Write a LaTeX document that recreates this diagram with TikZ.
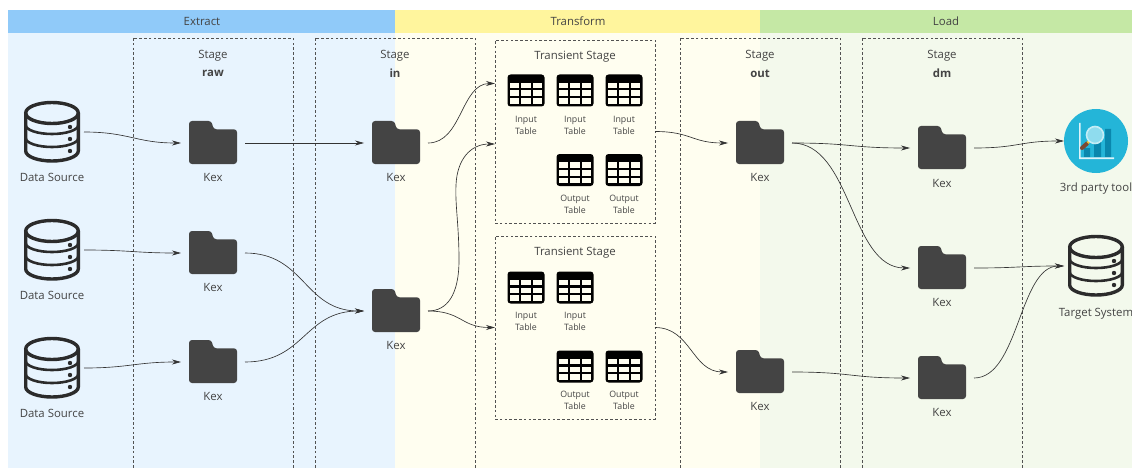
\documentclass[tikz,border=0pt]{standalone}
\usepackage{fontspec}
\setmainfont{Open Sans}
\usetikzlibrary{arrows.meta}
\definecolor{ink}{HTML}{333333}
\definecolor{txt}{HTML}{444444}
\definecolor{folderc}{HTML}{444444}
\definecolor{dbc}{HTML}{2B2B2B}
\definecolor{cellc}{HTML}{FFFEF0}
\definecolor{toolbg}{HTML}{24B5D8}
\definecolor{toolbar}{HTML}{0A87AD}
\definecolor{toolax}{HTML}{DDF3F9}
\definecolor{lens}{HTML}{8FDCEE}
\definecolor{lensrim}{HTML}{C4EDF6}
\definecolor{handle}{HTML}{7A4A32}
\definecolor{hring}{HTML}{F2C230}
\definecolor{bodyE}{HTML}{E8F4FE}
\definecolor{bodyT}{HTML}{FFFEF0}
\definecolor{bodyL}{HTML}{F3F9EC}
\definecolor{headE}{HTML}{90CAF9}
\definecolor{headT}{HTML}{FFF59D}
\definecolor{headL}{HTML}{C5E8A5}
\tikzset{
  x=1pt,y=-1pt,
  conn/.style={draw=ink,line width=0.65pt,-{Stealth[length=9pt,width=5pt]}},
  dashbox/.style={draw=ink!85,line width=0.55pt,dash pattern=on 2.6pt off 2.2pt},
  lab/.style={text=txt,font=\fontsize{11.4}{13}\selectfont,inner sep=0pt,align=center},
  small/.style={text=txt,font=\fontsize{8.8}{12}\selectfont,inner sep=0pt,align=center},
  foldernode/.style={minimum width=64pt,minimum height=44pt,inner sep=0pt,outer sep=0pt},
  dbnode/.style={minimum width=64pt,minimum height=64pt,inner sep=0pt,outer sep=0pt},
  tablenode/.style={minimum width=37pt,minimum height=32pt,inner sep=0pt,outer sep=0pt},
  transient/.style={dashbox,minimum width=160pt,minimum height=183pt,inner sep=0pt,outer sep=0pt},
}
\newcommand{\folderat}[3]{%
  \node[foldernode] (#1) at (#2,#3) {};
  \begin{scope}[shift={(#2,#3)}]
    \fill[folderc,rounded corners=3pt] (-24,-22) -- (-1.5,-22) -- (0.5,-13.7) -- (24,-13.7) -- (24,21) -- (-24,21) -- cycle;
  \end{scope}}
\newcommand{\dbat}[3]{%
  \node[dbnode] (#1) at (#2,#3) {};
  \begin{scope}[shift={(#2,#3)}]
    \draw[dbc,line width=3.4pt] (-26.3,-19) -- (-26.3,19) arc[start angle=180,end angle=0,x radius=26.3,y radius=10] -- (26.3,-19);
    \draw[dbc,line width=3.4pt] (0,-19) ellipse[x radius=26.3,y radius=10.5];
    \draw[dbc,line width=2.6pt] (-26.3,-7) arc[start angle=180,end angle=0,x radius=26.3,y radius=9];
    \draw[dbc,line width=2.6pt] (-26.3,6) arc[start angle=180,end angle=0,x radius=26.3,y radius=9];
    \fill[dbc] (18,-5) circle[radius=2.2] (18,7) circle[radius=2.2] (18,19) circle[radius=2.2];
  \end{scope}}
\newcommand{\tableat}[3]{%
  \node[tablenode] (#1) at (#2,#3) {};
  \begin{scope}[shift={(#2,#3)}]
    \fill[black,rounded corners=3pt] (-18.5,-16) rectangle (18.5,16);
    \foreach \r in {-7.7,0,7.7} \foreach \c in {-16,-4.67,6.67}
      \fill[cellc] (\c,\r) rectangle +(9.33,5.5);
  \end{scope}}
\begin{document}
\begin{tikzpicture}
\useasboundingbox (0,0) rectangle (1132,468);
\clip (0,0) rectangle (1132,468);
\fill[white] (0,0) rectangle (1132,468);
% bands
\fill[bodyE] (8,33) rectangle (395,468);
\fill[bodyT] (395,33) rectangle (760,468);
\fill[bodyL] (760,33) rectangle (1132,468);
\fill[headE] (8,10) rectangle (395,33);
\fill[headT] (395,10) rectangle (760,33);
\fill[headL] (760,10) rectangle (1132,33);
\node[lab] (hE) at (202,21) {Extract};
\node[lab] (hT) at (578,21) {Transform};
\node[lab] (hL) at (946,21) {Load};
% stages
\draw[dashbox] (133,38) rectangle (293,480);
\draw[dashbox] (315,38) rectangle (475,480);
\draw[dashbox] (680,38) rectangle (840,480);
\draw[dashbox] (862,38) rectangle (1022,480);
\node[lab] (s1) at (213,55.5) {Stage};
\node[lab] (s1b) at (213,73.5) {\textbf{raw}};
\node[lab] (s2) at (395,55.5) {Stage};
\node[lab] (s2b) at (395,73.5) {\textbf{in}};
\node[lab] (s3) at (760,55.5) {Stage};
\node[lab] (s3b) at (760,73.5) {\textbf{out}};
\node[lab] (s4) at (942,55.5) {Stage};
\node[lab] (s4b) at (942,73.5) {\textbf{dm}};
% transient
\node[transient] (T1) at (575,131.5) {};
\node[transient] (T2) at (575,327.5) {};
\coordinate (T1a) at (495,83.5);
\coordinate (T1b) at (495,144);
\node[lab] (T1t) at (575,56.5) {Transient Stage};
\node[lab] (T2t) at (575,252.5) {Transient Stage};
\tableat{a1}{526}{90.5}\tableat{a2}{575}{90.5}\tableat{a3}{624}{90.5}
\tableat{a4}{575}{170}\tableat{a5}{624}{170}
\tableat{b1}{526}{287.5}\tableat{b2}{575}{287.5}
\tableat{b4}{575}{366.5}\tableat{b5}{624}{366.5}
\node[small] at (526,125.5) {Input\\Table};
\node[small] at (575,125.5) {Input\\Table};
\node[small] at (624,125.5) {Input\\Table};
\node[small] at (575,204.5) {Output\\Table};
\node[small] at (624,204.5) {Output\\Table};
\node[small] at (526,321.5) {Input\\Table};
\node[small] at (575,321.5) {Input\\Table};
\node[small] at (575,400.5) {Output\\Table};
\node[small] at (624,400.5) {Output\\Table};
% sources
\dbat{d1}{52}{132}\dbat{d2}{52}{250}\dbat{d3}{52}{368}
\node[lab] at (52,177.5) {Data Source};
\node[lab] at (52,295.5) {Data Source};
\node[lab] at (52,413.5) {Data Source};
% folders
\folderat{k1}{213}{143}\folderat{k2}{213}{253}\folderat{k3}{213}{362}
\folderat{i1}{396}{143}\folderat{i2}{396}{311}
\folderat{o1}{760}{143}\folderat{o2}{760}{372}
\folderat{m1}{942}{148}\folderat{m2}{942}{268}\folderat{m3}{942}{378}
\foreach \x/\y in {213/177.5,213/287.5,213/396.5,396/177.5,396/345.5,760/177.5,760/406.5,942/183.5,942/302.5,942/412.5}
  \node[lab] at (\x,\y) {Kex};
% tool icon
\node[circle,fill=toolbg,minimum size=64pt,inner sep=0pt,outer sep=0pt] (tool) at (1096,141) {};
\begin{scope}[shift={(1096,141)}]
  \fill[toolbar] (-12,7) rectangle (-6,16) (-2,1) rectangle (5,16) (9,-12) rectangle (15,16);
  \fill[toolax] (-17,-18) rectangle (-15.5,18) (-17,16.3) rectangle (18,18);
  \draw[handle,line width=4pt,line cap=round] (-14,7) -- (-9,2.5);
  \draw[hring,line width=2.5pt] (-8.5,2) -- (-6.5,0);
  \fill[lens,draw=lensrim,line width=1.6pt] (-1,-6) circle[radius=8.5];
\end{scope}
\node[lab] at (1096,189) {3rd party tool};
\dbat{d4}{1096}{266}
\node[lab] at (1096,314) {Target System};
% connectors
\draw[conn] (d1.east) .. controls +(45,0) and +(-45,0) .. (k1.west);
\draw[conn] (d2.east) .. controls +(45,0) and +(-45,0) .. (k2.west);
\draw[conn] (d3.east) .. controls +(45,0) and +(-45,0) .. (k3.west);
\draw[conn] (k1.east) -- (i1.west);
\draw[conn] (k2.east) .. controls +(60,0) and +(-60,0) .. (i2.west);
\draw[conn] (k3.east) .. controls +(60,0) and +(-60,0) .. (i2.west);
\draw[conn] (i1.east) .. controls +(34,0) and +(-34,0) .. (T1a);
\draw[conn] (i2.east) .. controls (447,311) and (459,295) .. (459,260) .. controls (459,225) and (455,205) .. (456,185) .. controls (457,160) and (470,144) .. (T1b);
\draw[conn] (i2.east) .. controls +(34,0) and +(-34,0) .. (T2.west);
\draw[conn] (T1.east) .. controls +(36,0) and +(-36,0) .. (o1.west);
\draw[conn] (T2.east) .. controls +(36,0) and +(-36,0) .. (o2.west);
\draw[conn] (o1.east) .. controls +(60,0) and +(-60,0) .. (m1.west);
\draw[conn] (o1.east) .. controls +(60,0) and +(-60,0) .. (m2.west);
\draw[conn] (o2.east) .. controls +(60,0) and +(-60,0) .. (m3.west);
\draw[conn] (m1.east) .. controls +(45,0) and +(-45,0) .. (tool.west);
\draw[conn] (m2.east) .. controls +(45,0) and +(-45,0) .. (d4.west);
\draw[conn] (m3.east) .. controls +(45,0) and +(-45,0) .. (d4.west);
\end{tikzpicture}
\end{document}
